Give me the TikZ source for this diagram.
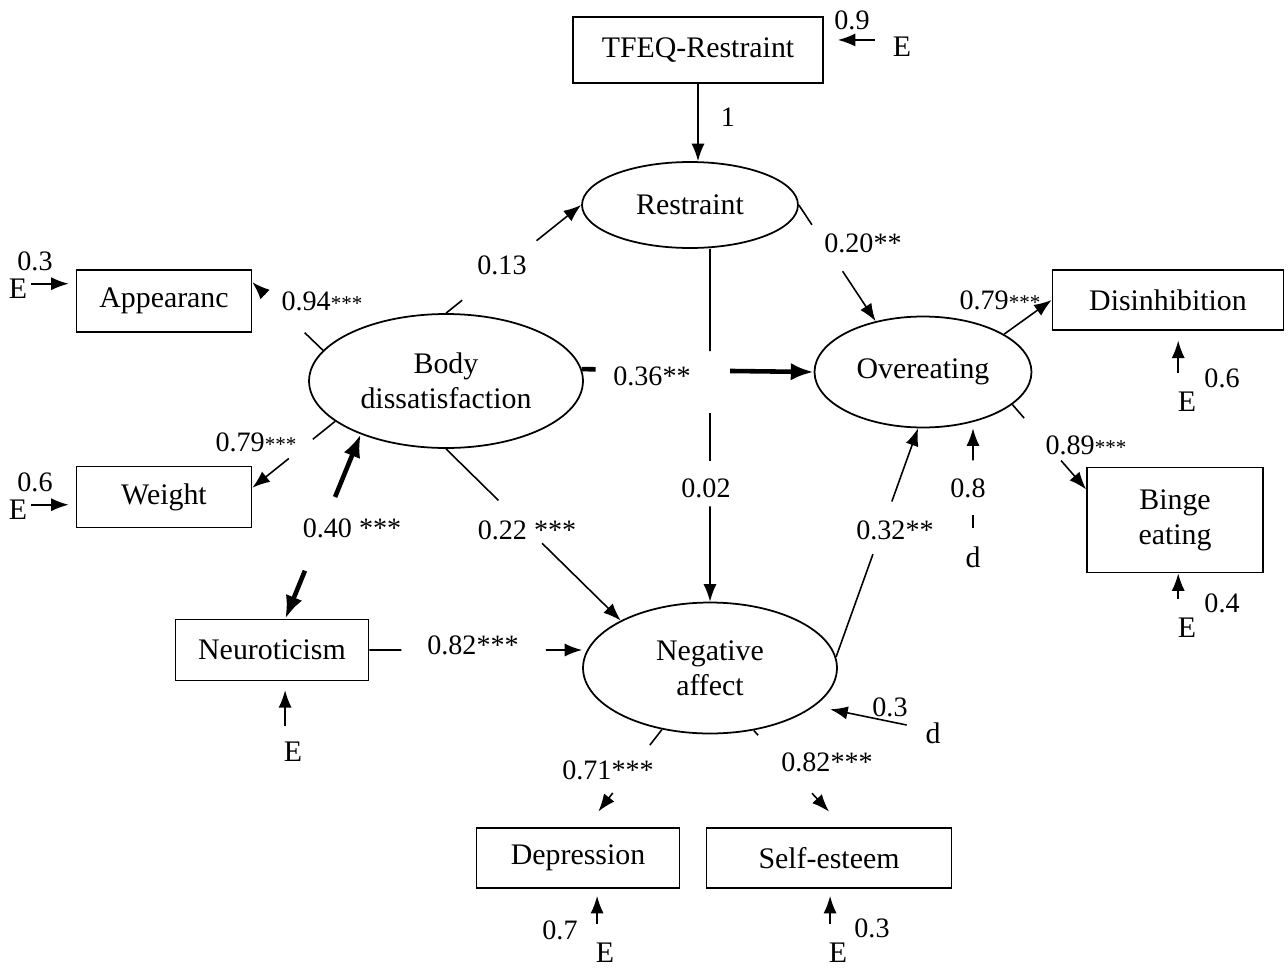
\documentclass[tikz,border=0pt]{standalone}
\usepackage{fontspec}
\setmainfont{Liberation Serif}
\usetikzlibrary{arrows.meta, shapes.geometric, calc, positioning}
\tikzset{obs/.style={draw, line width=1pt, inner sep=0pt, align=center, font=\fontsize{17}{20}\selectfont},
    lat/.style={draw, ellipse, line width=1pt, inner sep=0pt, align=center, font=\fontsize{17}{20}\selectfont},
    coef/.style={inner sep=1pt, font=\fontsize{16}{18}\selectfont},
    err/.style={inner sep=2pt, font=\fontsize{17}{19}\selectfont},
    ln/.style={line width=0.9pt},
    pth/.style={line width=0.9pt, -{Latex[length=10pt,width=7.5pt]}},
    bold/.style={line width=2.6pt, -{Latex[length=13pt,width=10pt]}}}
\newcommand{\sst}{{\fontsize{12}{12}\selectfont ***}}

\begin{document}
\begin{tikzpicture}[x=0.02cm, y=-0.02cm]
                 \useasboundingbox (0,0) rectangle (1288,967);
                 % measured variables
                 \node[obs, minimum width=5cm, minimum height=1.32cm] (tf) at (698,50) {TFEQ-Restraint};
                 \node[obs, minimum width=3.5cm, minimum height=1.24cm] (ap) at (164,301) {Appearanc};
                 \node[obs, minimum width=3.5cm, minimum height=1.22cm] (wt) at (164,497) {Weight};
                 \node[obs, minimum width=3.86cm, minimum height=1.22cm] (nt) at (272,650) {Neuroticism};
                 \node[obs, minimum width=4.62cm, minimum height=1.2cm] (di) at (1168,300) {Disinhibition};
                 \node[obs, minimum width=3.52cm, minimum height=2.1cm] (be) at (1175,520) {Binge\\eating};
                 \node[obs, minimum width=4.06cm, minimum height=1.2cm] (dp) at (578,858) {Depression};
                 \node[obs, minimum width=4.9cm, minimum height=1.2cm] (se) at (829,858) {Self-esteem};

                 % latent variables
                 \node[lat, minimum width=4.32cm, minimum height=1.72cm] (rs) at (690,205) {Restraint};
                 \node[lat, minimum width=5.48cm, minimum height=2.68cm] (bd) at (446,381) {Body\\dissatisfaction};
                 \node[lat, minimum width=4.34cm, minimum height=2.22cm] (oe) at (923,372) {Overeating};
                 \node[lat, minimum width=5.08cm, minimum height=2.62cm] (na) at (710,668) {Negative\\affect};

                 \draw[pth] (tf.south) -- (tf.south |- rs.north);
                 \node[coef] (c1) at (728,117) {1};

                 \draw[ln] (bd.north) -- ($(bd.north)!.12!(rs.west)$);
                 \draw[pth] ($(bd.north)!.67!(rs.west)$) -- (rs.west);
                 \node[coef] (c13) at (502,265) {0.13};

                 \draw[ln] (rs.east) -- ($(rs.east)!.17!(oe.133)$);
                 \draw[pth] ($(rs.east)!.57!(oe.133)$) -- (oe.133);
                 \node[coef] (c20) at (863,243) {0.20**};

                 \draw[line width=2.6pt] (bd.5) -- ($(bd.5)!.06!(oe.west)$);
                 \draw[bold] ($(bd.5)!.64!(oe.west)$) -- (oe.west);
                 \node[coef] (c36) at (652,376) {0.36**};

                 \coordinate (rsb) at (na.north |- rs.south);
                 \draw[ln] (rsb) -- ($(rsb)!.29!(na.north)$);
                 \draw[ln] ($(rsb)!.466!(na.north)$) -- ($(rsb)!.6!(na.north)$);
                 \draw[pth] ($(rsb)!.73!(na.north)$) -- (na.north);
                 \node[coef] (c02) at (706,488) {0.02};

                 \draw[ln] (bd.south) -- ($(bd.south)!.3!(na.152)$);
                 \draw[pth] ($(bd.south)!.55!(na.152)$) -- (na.152);
                 \node[coef] (c22) at (527,530) {0.22 ***};

                 \draw[bold] ($(nt.67)!.26!(bd.212)$) -- (nt.67);
                 \draw[bold] ($(nt.67)!.66!(bd.212)$) -- (bd.212);
                 \node[coef] (c40) at (352,528) {0.40 ***};

                 \draw[ln] (nt.east) -- ($(nt.east)!.15!(nt.east -| na.west)$);
                 \draw[pth] ($(nt.east)!.83!(nt.east -| na.west)$) -- (nt.east -| na.west);
                 \node[coef] (c82n) at (473,645) {0.82***};

                 \draw[ln] (na.5) -- ($(na.5)!.45!(oe.265)$);
                 \draw[pth] ($(na.5)!.68!(oe.265)$) -- (oe.265);
                 \node[coef] (c32) at (895,530) {0.32**};

                 \draw[pth] (oe.25) -- (di.west);
                 \node[coef] (c79d) at (1000,300) {0.79\sst};

                 \draw[ln] (oe.340) -- ($(oe.340)!.16!(be.161)$);
                 \draw[pth] ($(oe.340)!.66!(be.161)$) -- (be.161);
                 \node[coef] (c89) at (1086,445) {0.89\sst};

                 \draw[ln] (bd.166) -- ($(bd.166)!.26!(ap.12)$);
                 \draw[pth] ($(bd.166)!.82!(ap.12)$) -- (ap.12);
                 \node[coef] (c94) at (322,301) {0.94\sst};

                 \draw[ln] (bd.200) -- ($(bd.200)!.27!(wt.6)$);
                 \draw[pth] ($(bd.200)!.56!(wt.6)$) -- (wt.6);
                 \node[coef] (c79w) at (256,442) {0.79\sst};

                 \draw[ln] (na.232) -- ($(na.232)!.16!(dp.75)$);
                 \draw[pth] ($(na.232)!.65!(dp.75)$) -- ($(na.232)!.84!(dp.75)$);
                 \node[coef] (c71) at (608,770) {0.71***};

                 \draw[ln] (na.305) -- ($(na.305)!.05!(se.65)$);
                 \draw[pth] ($(na.305)!.65!(se.65)$) -- ($(na.305)!.84!(se.65)$);
                 \node[coef] (c82s) at (827,762) {0.82***};

                 % disturbances
                 \node[err] (dOe) at (973,557) {d};
                 \draw[ln] ($(dOe.north)!.13!(dOe.north |- oe.south)$) -- ($(dOe.north)!.24!(dOe.north |- oe.south)$);
                 \draw[pth] ($(dOe.north)!.72!(dOe.north |- oe.south)$) -- (dOe.north |- oe.south);
                 \node[coef] (c8) at (968,488) {0.8};

                 \node[err] (dNa) at (933,733) {d};
                 \draw[pth, shorten >=9pt] ($(dNa.west)+(-15,-8)$) -- (na.340);
                 \node[coef] (c3n) at (890,707) {0.3};

                 % errors
                 \node[err] (eTf) at (902,47) {E};
                 \draw[pth, shorten <=8pt, shorten >=8pt] ([yshift=4pt]eTf.west) -- ([yshift=4pt]eTf.west -| tf.east);
                 \node[coef] (v9) at (852,20) {0.9};

                 \node[err] (eAp) at (18,289) {E};
                 \draw[pth, shorten >=4pt] ([yshift=3pt]eAp.east) -- ([yshift=3pt]eAp.east -| ap.west);
                 \node[coef] (v3a) at (35,261) {0.3};

                 \node[err] (eWt) at (18,510) {E};
                 \draw[pth, shorten >=4pt] ([yshift=3pt]eWt.east) -- ([yshift=3pt]eWt.east -| wt.west);
                 \node[coef] (v6w) at (35,482) {0.6};

                 \node[err] (eNt) at (293,752) {E};
                 \draw[pth, shorten <=7pt, shorten >=5pt] ([xshift=-4.5pt]eNt.north) -- ([xshift=-4.5pt]eNt.north |- nt.south);

                 \node[err] (eDi) at (1187,402) {E};
                 \draw[pth, shorten <=9pt, shorten >=5.5pt] ([xshift=-5pt]eDi.north) -- ([xshift=-5pt]eDi.north |- di.south);
                 \node[coef] (v6d) at (1222,378) {0.6};

                 \node[err] (eBe) at (1187,628) {E};
                 \draw[pth, shorten <=9pt] ([xshift=-5pt]eBe.north) -- ([xshift=-5pt]eBe.north |- be.south);
                 \node[coef] (v4) at (1222,603) {0.4};

                 \node[err] (eDp) at (605,953) {E};
                 \draw[pth, shorten <=9pt, shorten >=4pt] ([xshift=-4.5pt]eDp.north) -- ([xshift=-4.5pt]eDp.north |- dp.south);
                 \node[coef] (v7) at (560,930) {0.7};

                 \node[err] (eSe) at (838,953) {E};
                 \draw[pth, shorten <=9pt, shorten >=4pt] ([xshift=-4.5pt]eSe.north) -- ([xshift=-4.5pt]eSe.north |- se.south);
                 \node[coef] (v3s) at (872,928) {0.3};
\end{tikzpicture}
\end{document}
